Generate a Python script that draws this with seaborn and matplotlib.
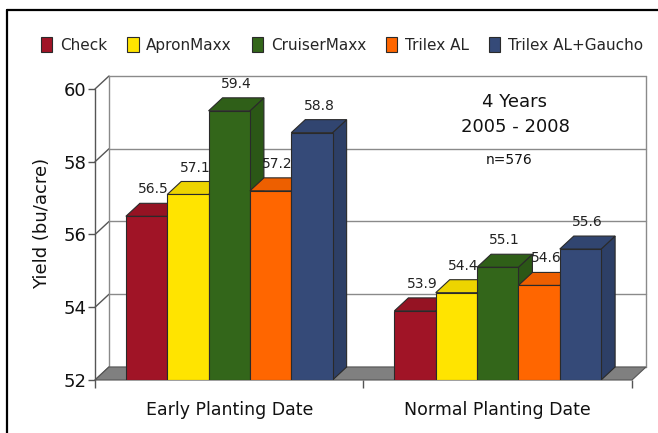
import matplotlib
matplotlib.use("Agg")
import matplotlib.pyplot as plt
import matplotlib.colors as mcolors
from matplotlib.patches import Polygon
from matplotlib.lines import Line2D
import seaborn as sns
import pandas as pd
import numpy as np

# data
dates = ["Early Planting Date", "Normal Planting Date"]
treatments = ["Check", "ApronMaxx", "CruiserMaxx", "Trilex AL", "Trilex AL+Gaucho"]
early_yield = [56.5, 57.1, 59.4, 57.2, 58.8]
normal_yield = [53.9, 54.4, 55.1, 54.6, 55.6]
colors = ["#A01426", "#FFE400", "#33661A", "#FF6600", "#354A78"]
y_ticks = [52, 54, 56, 58, 60]

df = pd.DataFrame({
  "date": [dates[0]] * len(treatments) + [dates[1]] * len(treatments),
  "treatment": treatments * 2,
  "yield": early_yield + normal_yield,
})

sns.set_theme(style="white")
plt.rcParams["font.family"] = ["DejaVu Sans"]

W, H = 658, 433
fig = plt.figure(figsize=(W / 100, H / 100), dpi=100)
ax_l, ax_b, ax_w, ax_h = 95, 53, 551, 304
ax = fig.add_axes([ax_l / W, ax_b / H, ax_w / W, ax_h / H])

sns.barplot(data=df, x="date", y="yield", hue="treatment", palette=colors,
            width=0.77, saturation=1, edgecolor="#2a2a2a", linewidth=0.8, ax=ax)
bars = sorted([p for cont in ax.containers for p in cont], key=lambda p: p.get_x())

# depth of the fake 3d look, in pixels -> data units
ymin, ymax = y_ticks[0], y_ticks[-1]
dx = 14 * 2.0 / (ax_w - 14)
dy = 13 * (ymax - ymin) / (ax_h - 13)
ax.set_xlim(-0.5, 1.5 + dx)
ax.set_ylim(ymin, ymax + dy)
for s in ax.spines.values():
  s.set_visible(False)

grid_c = "#8a8a8a"
# back wall + left wall lines
for v in y_ticks:
  ax.plot([-0.5 + dx, 1.5 + dx], [v + dy, v + dy], color=grid_c, lw=1, zorder=1, clip_on=False)
  ax.plot([-0.5, -0.5 + dx], [v, v + dy], color="#555555", lw=1, zorder=1, clip_on=False)
ax.plot([-0.5 + dx, -0.5 + dx], [ymin + dy, ymax + dy], color=grid_c, lw=1, zorder=1, clip_on=False)
ax.plot([1.5 + dx, 1.5 + dx], [ymin + dy, ymax + dy], color=grid_c, lw=1, zorder=1, clip_on=False)
ax.plot([-0.5, -0.5], [ymin, ymax], color="#555555", lw=1, zorder=1, clip_on=False)

# floor
ax.add_patch(Polygon([(-0.5, ymin), (1.5, ymin), (1.5 + dx, ymin + dy), (-0.5 + dx, ymin + dy)],
                     closed=True, facecolor="#808080", edgecolor="#555555", lw=0.8, zorder=1.5, clip_on=False))

# 3d faces of the bars, left to right so later bars cover earlier sides
for k, p in enumerate(bars):
  x0, w = p.get_x(), p.get_width()
  top = p.get_y() + p.get_height()
  p.set_y(ymin)
  p.set_height(top - ymin)
  z = 2 + k * 0.1
  side = [(x0 + w, ymin), (x0 + w + dx, ymin + dy), (x0 + w + dx, top + dy), (x0 + w, top)]
  cap = [(x0, top), (x0 + dx, top + dy), (x0 + w + dx, top + dy), (x0 + w, top)]
  base = np.array(mcolors.to_rgb(p.get_facecolor()))
  ax.add_patch(Polygon(side, closed=True, facecolor=base * 0.85, edgecolor="#2a2a2a", lw=0.8, zorder=z))
  ax.add_patch(Polygon(cap, closed=True, facecolor=base * 0.93, edgecolor="#2a2a2a", lw=0.8, zorder=z))
  p.set_zorder(z + 0.05)

# value labels
for cont, vals in zip(ax.containers, zip(early_yield, normal_yield)):
  for p, v in zip(cont, vals):
    cx = p.get_x() + p.get_width() / 2 + dx / 2
    ax.annotate(f"{v}", (cx, v + dy), xytext=(0, 5), textcoords="offset points",
                ha="center", va="bottom", fontsize=10, color="#222222", zorder=5, annotation_clip=False)

# axes ticks
ax.set_yticks(y_ticks)
ax.tick_params(axis="y", which="major", left=True, length=5, width=1, color="#555555",
               pad=1, labelsize=13, labelcolor="#111111")
ax.set_xticks([0, 1])
ax.set_xticks([-0.5, 0.5, 1.5], minor=True)
ax.tick_params(axis="x", which="major", bottom=False, pad=9, labelsize=12.5, labelcolor="#111111")
ax.tick_params(axis="x", which="minor", bottom=True, length=6, width=1, color="#555555")
ax.set_xlabel("")
ax.set_ylabel("Yield (bu/acre)", fontsize=13, color="#111111")
ax.yaxis.set_label_coords(-0.08, 0.516)

ax.text((515 - ax_l) / ax_w, (380 - 102) / ax_h, "4 Years", transform=ax.transAxes,
        ha="center", va="center", fontsize=13, color="#111111")
ax.text((515 - ax_l) / ax_w, (380 - 127) / ax_h, "2005 - 2008", transform=ax.transAxes,
        ha="center", va="center", fontsize=13, color="#111111")
ax.text((509 - ax_l) / ax_w, (380 - 160) / ax_h, "n=576", transform=ax.transAxes,
        ha="center", va="center", fontsize=10, color="#111111")

sns.move_legend(ax, "center", bbox_to_anchor=((342 - ax_l) / ax_w, (380 - 45) / ax_h), ncol=5,
                frameon=False, title=None, fontsize=11, handlelength=0.75, handleheight=1.1,
                handletextpad=0.5, columnspacing=1.3)

# frame lines of the original picture
fig.add_artist(Line2D([7 / W, 1], [1 - 10 / H, 1 - 10 / H], color="black", lw=1.6))
fig.add_artist(Line2D([7 / W, 7 / W], [0, 1 - 10 / H], color="black", lw=1.6))

fig.savefig("out.png", dpi=100)
